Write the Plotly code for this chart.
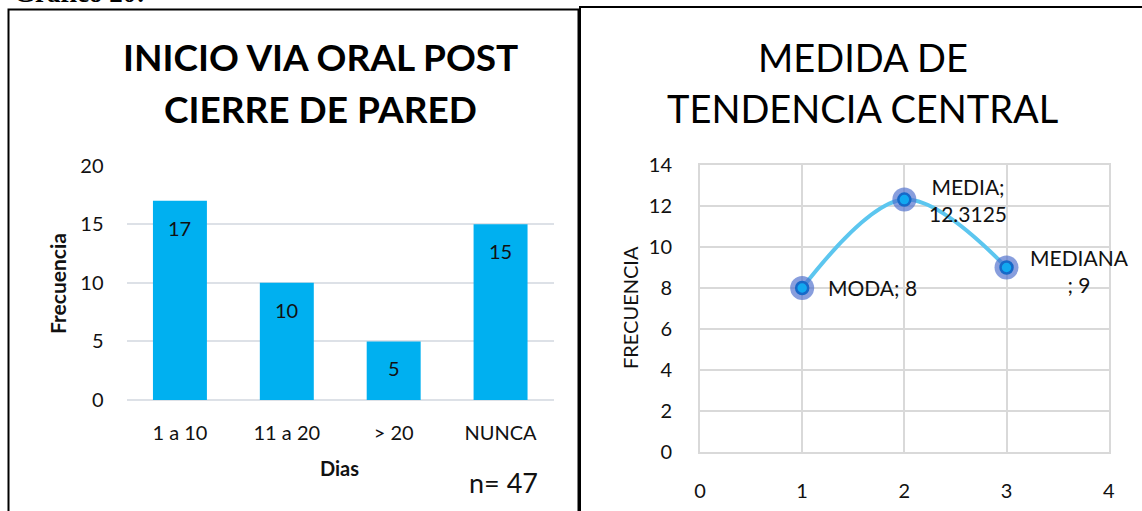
import plotly.graph_objects as go

# ---------------- data ----------------
dias_categorias = ["1 a 10", "11 a 20", "> 20", "NUNCA"]
frecuencias = [17, 10, 5, 15]
total_n = 47

medidas_nombres = ["MODA", "MEDIA", "MEDIANA"]
medidas_x = [1, 2, 3]
medidas_valores = [8, 12.3125, 9]

titulo_izq = ["INICIO VIA ORAL POST", "CIERRE DE PARED"]
titulo_der = ["MEDIDA DE", "TENDENCIA CENTRAL"]

# ---------------- layout helpers ----------------
W, H = 1142, 511
def px(x):
    return x / W
def py(y):
    return 1 - y / H

FONT = "Lato"
TXT = "#111111"

fig = go.Figure()

# Bars (left)
fig.add_trace(go.Bar(
    x=dias_categorias, y=frecuencias, marker=dict(color="#00B0F0", line=dict(width=0)),
    xaxis="x", yaxis="y", showlegend=False, hoverinfo="skip"))

# Line chart (right)
fig.add_trace(go.Scatter(
    x=medidas_x, y=medidas_valores, mode="lines",
    line=dict(color="#5CC6EF", width=4, shape="spline", smoothing=1.0),
    xaxis="x2", yaxis="y2", showlegend=False, hoverinfo="skip"))
fig.add_trace(go.Scatter(
    x=medidas_x, y=medidas_valores, mode="markers",
    marker=dict(size=24, color="rgba(80,112,205,0.68)", line=dict(width=0)),
    xaxis="x2", yaxis="y2", showlegend=False, hoverinfo="skip"))
fig.add_trace(go.Scatter(
    x=medidas_x, y=medidas_valores, mode="markers",
    marker=dict(size=12, color="#12A8F0", line=dict(width=2.5, color="#1768C8")),
    xaxis="x2", yaxis="y2", showlegend=False, hoverinfo="skip"))

annotations = []

# bar value labels (inside end)
for c, v in zip(dias_categorias, frecuencias):
    annotations.append(dict(x=c, y=v, xref="x", yref="y", text=str(v), showarrow=False,
                            yanchor="middle", yshift=-27,
                            font=dict(family=FONT, size=20, color=TXT)))

# point labels
label_shift = {"MODA": (70, 1), "MEDIA": (64, 0), "MEDIANA": (73, -3)}
for n, xv, yv in zip(medidas_nombres, medidas_x, medidas_valores):
    if n == "MODA":
        t = f"{n}; {yv:g}"
    elif n == "MEDIA":
        t = f"{n};<br>{yv:g}"
    else:
        t = f"{n}<br>; {yv:g}"
    dx, dy = label_shift[n]
    annotations.append(dict(x=xv, y=yv, xref="x2", yref="y2", text=t, showarrow=False,
                            xanchor="center", yanchor="middle", xshift=dx, yshift=dy,
                            align="center",
                            font=dict(family=FONT, size=21, color=TXT)))

# titles
for t, yc in zip(titulo_izq, [57, 109]):
    annotations.append(dict(x=px(320), y=py(yc), xref="paper", yref="paper", text=f"<b>{t}</b>",
                            showarrow=False, xanchor="center", yanchor="middle",
                            font=dict(family=FONT, size=37, color="#000000")))
for t, yc in zip(titulo_der, [57, 108]):
    annotations.append(dict(x=px(862.5), y=py(yc), xref="paper", yref="paper", text=t,
                            showarrow=False, xanchor="center", yanchor="middle",
                            font=dict(family=FONT, size=38, color="#000000")))

# axis titles and notes
annotations += [
    dict(x=px(57), y=py(283), xref="paper", yref="paper", text="<b>Frecuencia</b>", textangle=-90,
         showarrow=False, xanchor="center", yanchor="middle", font=dict(family=FONT, size=21, color=TXT)),
    dict(x=px(339), y=py(468), xref="paper", yref="paper", text="<b>Dias</b>",
         showarrow=False, xanchor="center", yanchor="middle", font=dict(family=FONT, size=20, color=TXT)),
    dict(x=px(503), y=py(482), xref="paper", yref="paper", text=f"n= {total_n}",
         showarrow=False, xanchor="center", yanchor="middle", font=dict(family=FONT, size=27, color=TXT)),
    dict(x=px(630), y=py(308), xref="paper", yref="paper", text="FRECUENCIA", textangle=-90,
         showarrow=False, xanchor="center", yanchor="middle", font=dict(family=FONT, size=20, color=TXT)),
    dict(x=px(12), y=py(10), xref="paper", yref="paper", text="<b>Gráfico 20:</b>",
         showarrow=False, xanchor="left", yanchor="bottom",
         font=dict(family="Liberation Serif", size=27, color="#000000")),
]

shapes = [
    dict(type="rect", xref="paper", yref="paper", x0=px(8.5), x1=px(578.5), y0=py(540), y1=py(9.5),
         line=dict(color="#000000", width=2), fillcolor="rgba(0,0,0,0)", layer="above"),
    dict(type="rect", xref="paper", yref="paper", x0=px(580), x1=px(1170), y0=py(540), y1=py(7),
         line=dict(color="#000000", width=2), fillcolor="rgba(0,0,0,0)", layer="above"),
]

fig.update_layout(
    width=W, height=H, autosize=False,
    margin=dict(l=0, r=0, t=0, b=0, pad=0, autoexpand=False),
    paper_bgcolor="white", plot_bgcolor="white",
    bargap=0.495,
    showlegend=False,
    annotations=annotations,
    shapes=shapes,
    xaxis=dict(domain=[px(126.5), px(554)], anchor="y", type="category", automargin=False,
               showgrid=False, showline=False, zeroline=False, ticks="",
               tickfont=dict(family=FONT, size=20, color=TXT), ticklabelstandoff=19),
    yaxis=dict(domain=[py(400), py(165.7)], anchor="x", range=[0, 20], dtick=5, automargin=False,
               showgrid=True, gridcolor="#DDE1E7", gridwidth=2, zeroline=True,
               zerolinecolor="#DDE1E7", zerolinewidth=2, showline=False, ticks="",
               tickfont=dict(family=FONT, size=20, color=TXT), ticklabelstandoff=22),
    xaxis2=dict(domain=[px(700), px(1108.7)], anchor="y2", range=[0, 4], dtick=1, automargin=False,
                showgrid=True, gridcolor="#D9D9D9", gridwidth=2, zeroline=False,
                showline=True, linecolor="#D9D9D9", linewidth=2, mirror=True, ticks="",
                tickfont=dict(family=FONT, size=20, color=TXT), ticklabelstandoff=20),
    yaxis2=dict(domain=[py(452), py(165)], anchor="x2", range=[0, 14], dtick=2, automargin=False,
                showgrid=True, gridcolor="#D9D9D9", gridwidth=2, zeroline=False,
                showline=True, linecolor="#D9D9D9", linewidth=2, mirror=True, ticks="",
                tickfont=dict(family=FONT, size=20, color=TXT), ticklabelstandoff=22),
)

fig.write_html("out.html", config={"displayModeBar": False, "staticPlot": True},
               post_script="document.body.style.margin='0px';document.body.style.padding='0px';")
